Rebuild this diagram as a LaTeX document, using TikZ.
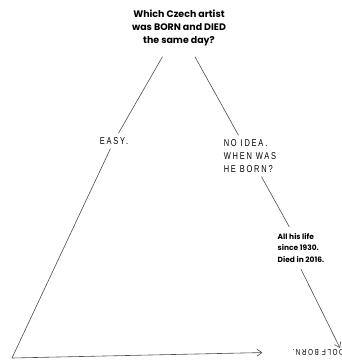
\documentclass[tikz,border=0pt]{standalone}
\usepackage{fontspec}
\usepackage{tikz}
\usetikzlibrary{arrows.meta, positioning}
\newfontfamily\titlefont{Poppins}
\newfontfamily\handfont[FakeStretch=0.75, LetterSpace=18]{Liberation Sans}

\begin{document}
\begin{tikzpicture}[
        x=1bp, y=-1bp,
        question/.style={font=\titlefont\bfseries\fontsize{9.5}{13.5}\selectfont, align=center, inner sep=10bp},
        answer/.style={font=\handfont\fontsize{10}{13}\selectfont, align=left, inner sep=4bp},
        fact/.style={font=\titlefont\bfseries\fontsize{7.5}{12}\selectfont, align=left, inner sep=6bp},
        line/.style={draw=black!70, line width=0.6bp},
        arrow/.style={line, -{Straight Barb[length=5bp, width=7bp]}}
    ]
    \useasboundingbox (0,0) rectangle (342,361);

    % Nodes
    \node (question) [question] at (179,28) {Which Czech artist\\ was BORN and DIED\\ the same day?};
    \node (easy) [answer] at (114,141) {EASY.};
    \node (noidea) [answer] at (250,156) {NO IDEA.\\ WHEN WAS\\ HE BORN?};
    \node (life) [fact] at (301,248) {All his life\\ since 1930.\\ Died in 2016.};
    \node (adolf) [answer, font=\handfont\fontsize{8.5}{10}\selectfont, rotate=180] at (321,352) {ADOLF BORN.};
    \coordinate (corner) at (12,358);
    \coordinate (adolftip) at (340,348);

    % Arrows
    \draw [line] (question) -- (easy);
    \draw [line] (easy) -- (corner);
    \draw [arrow, shorten >=26bp] (corner) -- (adolf.east);
    \draw [line] (question) -- (noidea);
    \draw [line] (noidea) -- (life);
    \draw [arrow] (life.south) -- (adolftip);

\end{tikzpicture}
\end{document}
